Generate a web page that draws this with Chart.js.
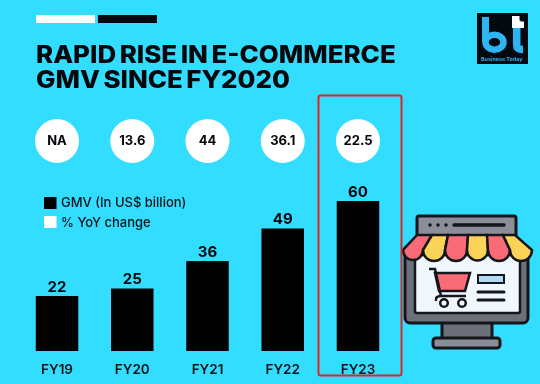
<!DOCTYPE html>
<html>
<head>
<meta charset="utf-8">
<script src="https://cdn.jsdelivr.net/npm/chart.js@4"></script>
<style>
  html, body { margin: 0; padding: 0; background: #33ddff; overflow: hidden; }
  canvas { display: block; }
</style>
</head>
<body>
<canvas id="chart-gmv" width="540" height="384"></canvas>
<script>
const categories = ['FY19', 'FY20', 'FY21', 'FY22', 'FY23'];
const gmv = [22, 25, 36, 49, 60];
const yoyLabels = ['NA', '13.6', '44', '36.1', '22.5'];
const titleLines = ['RAPID RISE IN E-COMMERCE', 'GMV SINCE FY2020'];
const legendLabels = ['GMV (In US$ billion)', '% YoY change'];

const FONT = 'Inter, "Liberation Sans", sans-serif';
const circleRow = 84;

function roundBox(ctx, x, y, w, h, r, fill, stroke, lw) {
    ctx.beginPath();
    ctx.roundRect(x, y, w, h, r);
    if (fill) { ctx.fillStyle = fill; ctx.fill(); }
    if (stroke) { ctx.strokeStyle = stroke; ctx.lineWidth = lw; ctx.stroke(); }
}

function drawLogo(ctx) {
    ctx.fillStyle = '#03090f';
    ctx.fillRect(477, 13, 51, 51);
    ctx.strokeStyle = '#2fb4f2';
    ctx.fillStyle = '#2fb4f2';
    ctx.fillRect(482, 17, 7, 25);
    ctx.lineWidth = 6.5;
    ctx.beginPath();
    ctx.ellipse(494.5, 42.2, 9, 7.5, 0, 0, Math.PI * 2);
    ctx.stroke();
    ctx.lineWidth = 7.5;
    ctx.beginPath();
    ctx.moveTo(516.7, 20);
    ctx.lineTo(516.7, 45);
    ctx.quadraticCurveTo(516.7, 49.5, 523, 49.5);
    ctx.stroke();
    ctx.fillStyle = '#ffffff';
    ctx.fillRect(512, 16, 7.5, 12);
    ctx.fillRect(512, 21.5, 12, 6.5);
    ctx.font = '700 5.4px ' + FONT;
    ctx.fillStyle = '#2fb4f2';
    ctx.textAlign = 'left';
    ctx.textBaseline = 'alphabetic';
    ctx.fillText('Business Today', 481, 60.5);
}

function drawShop(ctx) {
    const ink = '#15151c';
    const grey = '#8b8e98';
    // stand
    roundBox(ctx, 442, 320, 50, 20, 0, '#6d7079', ink, 3);
    roundBox(ctx, 433, 338, 67, 10, 3, '#8b8e98', ink, 3);
    // monitor
    roundBox(ctx, 405, 245, 123, 78, 5, '#6d7079', ink, 3);
    roundBox(ctx, 415, 255, 105, 58, 2, '#f0f8fd', ink, 2.5);
    // top panel
    roundBox(ctx, 417, 216, 99, 22, 2, grey, ink, 3);
    ctx.fillStyle = ink;
    [430, 438, 446].forEach(x => {
        ctx.beginPath();
        ctx.arc(x, 225, 1.8, 0, Math.PI * 2);
        ctx.fill();
    });
    ctx.strokeStyle = ink;
    ctx.lineWidth = 3.5;
    ctx.lineCap = 'round';
    ctx.beginPath();
    ctx.moveTo(454, 225);
    ctx.lineTo(504, 225);
    ctx.stroke();
    ctx.lineCap = 'butt';
    // awning
    const topX = [417, 432, 448, 468, 487, 503, 515];
    const botX = [403, 423, 445, 467, 488, 510, 532];
    for (let i = 0; i < 6; i++) {
        const colour = i % 2 ? '#fbd356' : '#fa6b78';
        const cx = (botX[i] + botX[i + 1]) / 2;
        const r = (botX[i + 1] - botX[i]) / 2;
        ctx.beginPath();
        ctx.moveTo(topX[i], 235);
        ctx.lineTo(topX[i + 1], 235);
        ctx.lineTo(botX[i + 1], 250);
        ctx.arc(cx, 250, r, 0, Math.PI);
        ctx.closePath();
        ctx.fillStyle = colour;
        ctx.fill();
        ctx.strokeStyle = ink;
        ctx.lineWidth = 2.5;
        ctx.stroke();
    }
    // cart
    ctx.beginPath();
    ctx.moveTo(435, 273);
    ctx.lineTo(470, 273);
    ctx.lineTo(465, 291);
    ctx.lineTo(439, 291);
    ctx.closePath();
    ctx.fillStyle = '#fa6b78';
    ctx.fill();
    ctx.strokeStyle = ink;
    ctx.lineWidth = 2.5;
    ctx.stroke();
    ctx.beginPath();
    ctx.moveTo(429, 269);
    ctx.lineTo(435, 269);
    ctx.lineTo(441, 296);
    ctx.lineTo(466, 296);
    ctx.moveTo(441, 296);
    ctx.quadraticCurveTo(435, 296, 436, 301);
    ctx.stroke();
    [444, 462].forEach(x => {
        ctx.beginPath();
        ctx.arc(x, 303, 3.8, 0, Math.PI * 2);
        ctx.fillStyle = '#f0f8fd';
        ctx.fill();
        ctx.stroke();
    });
    // listing lines
    roundBox(ctx, 478, 275, 26, 8, 0, '#b4d9f2', ink, 2);
    ctx.lineWidth = 3;
    ctx.lineCap = 'round';
    [292, 300].forEach(y => {
        ctx.beginPath();
        ctx.moveTo(478, y);
        ctx.lineTo(504, y);
        ctx.stroke();
    });
    ctx.lineCap = 'butt';
}

const decor = {
    id: 'decor',
    beforeDraw(chart) {
        const ctx = chart.ctx;
        ctx.save();
        ctx.fillStyle = '#33ddff';
        ctx.fillRect(0, 0, chart.width, chart.height);
        ctx.fillStyle = '#ffffff';
        ctx.fillRect(36, 15, 59, 8);
        ctx.fillStyle = '#03090f';
        ctx.fillRect(98, 15, 59, 8);

        // title font is wider than Inter, so stretch it a bit
        ctx.save();
        ctx.fillStyle = '#05070a';
        ctx.font = '800 24px ' + FONT;
        ctx.wordSpacing = '-2px';
        ctx.textAlign = 'left';
        ctx.textBaseline = 'alphabetic';
        ctx.translate(36, 0);
        ctx.scale(1.08, 1);
        ctx.fillText(titleLines[0], 0, 63);
        ctx.fillText(titleLines[1], 0, 88);
        ctx.restore();

        ctx.fillStyle = '#000000';
        ctx.fillRect(44, 197, 12.5, 12);
        ctx.fillStyle = '#ffffff';
        ctx.fillRect(44, 216, 12.5, 12);
        ctx.fillStyle = '#0a1418';
        ctx.font = '500 13px ' + FONT;
        ctx.textAlign = 'left';
        ctx.textBaseline = 'middle';
        ctx.fillText(legendLabels[0], 61, 203);
        ctx.fillText(legendLabels[1], 61, 223);
        ctx.restore();
    },
    afterDraw(chart) {
        const ctx = chart.ctx;
        ctx.save();
        drawLogo(ctx);
        drawShop(ctx);
        roundBox(ctx, 318.5, 95.5, 83, 280, 2, null, '#e0271f', 2);
        ctx.restore();
    }
};

const valueLabels = {
    id: 'valueLabels',
    afterDatasetsDraw(chart) {
        const ctx = chart.ctx;
        ctx.save();
        ctx.textAlign = 'center';
        ctx.fillStyle = '#05070a';
        ctx.textBaseline = 'alphabetic';
        ctx.font = '700 15px ' + FONT;
        chart.getDatasetMeta(0).data.forEach((bar, i) => {
            ctx.fillText(gmv[i], bar.x, bar.y - 4.5);
        });
        ctx.textBaseline = 'middle';
        ctx.font = '700 13px ' + FONT;
        chart.getDatasetMeta(1).data.forEach((pt, i) => {
            ctx.fillText(yoyLabels[i], pt.x, pt.y + 0.5);
        });
        ctx.restore();
    }
};

new Chart(document.getElementById('chart-gmv'), {
    data: {
        labels: categories,
        datasets: [
            {
                type: 'bar',
                label: legendLabels[0],
                data: gmv,
                backgroundColor: '#000000',
                barPercentage: 1,
                categoryPercentage: 0.565
            },
            {
                type: 'line',
                label: legendLabels[1],
                data: categories.map(() => circleRow),
                showLine: false,
                pointRadius: 22,
                pointBorderWidth: 0,
                pointBackgroundColor: '#ffffff'
            }
        ]
    },
    options: {
        responsive: false,
        animation: false,
        layout: { autoPadding: false, padding: { left: 19.4, right: 144.4, top: 101, bottom: 0 } },
        plugins: { legend: { display: false }, tooltip: { enabled: false }, title: { display: false } },
        scales: {
            x: {
                grid: { display: false },
                border: { display: false },
                ticks: {
                    color: '#0a1418',
                    padding: 3,
                    maxRotation: 0,
                    font: { family: FONT, size: 13.5, weight: '600' }
                },
                afterFit(scale) { scale.height = 33; }
            },
            y: { display: false, min: 0, max: 100 }
        }
    },
    plugins: [decor, valueLabels]
});
</script>
</body>
</html>
